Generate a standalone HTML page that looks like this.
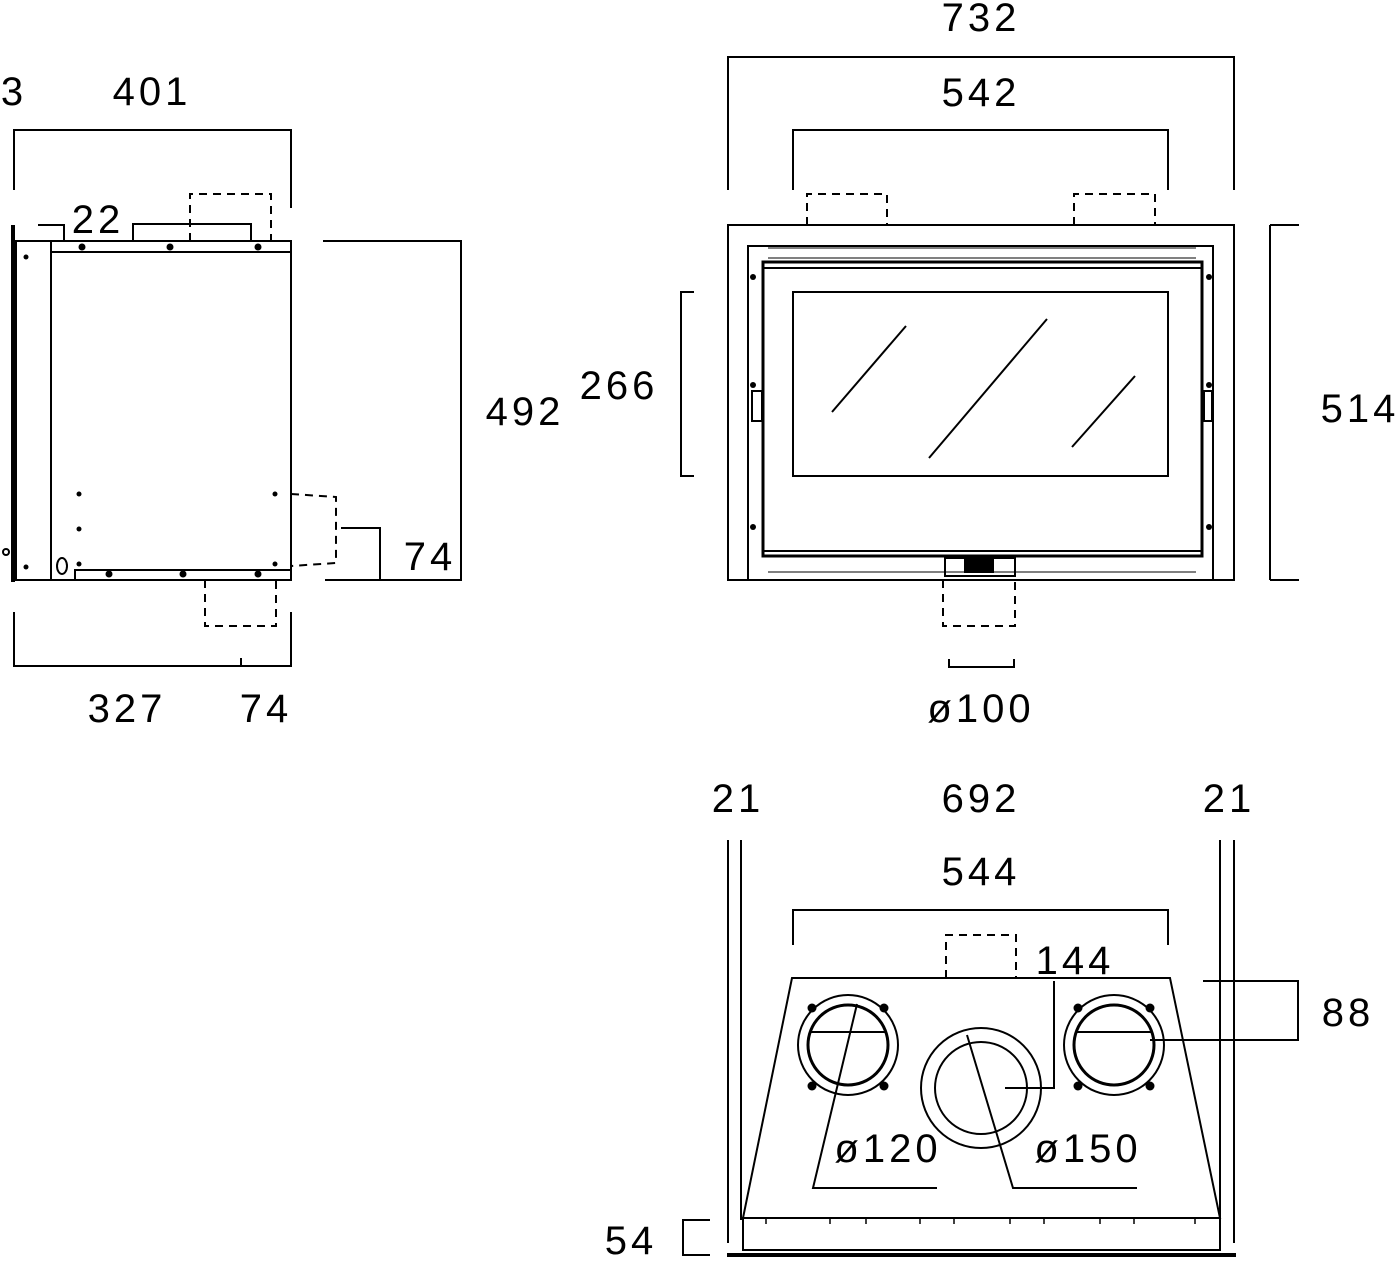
<!DOCTYPE html>
<html><head><style>body{margin:0;background:#fff}svg{display:block}text{font-family:"Liberation Sans",sans-serif;font-size:40px;fill:#000;stroke:none;text-anchor:middle;letter-spacing:4px}</style></head><body>
<svg width="1400" height="1271" viewBox="0 0 1400 1271" fill="none" stroke="#000" stroke-width="2">
<!-- LEFT VIEW -->
<g>
<polyline points="14,190 14,130 291,130 291,208"/>
<line x1="13" y1="225" x2="13" y2="582" stroke-width="4"/>
<rect x="16" y="241" width="35" height="339"/>
<rect x="51" y="241" width="240" height="339"/>
<line x1="51" y1="252" x2="291" y2="252"/>
<rect x="75" y="570" width="216" height="10"/>
<rect x="133" y="224" width="118" height="17"/>
<polyline points="38,225 64,225 64,241"/>
<polyline points="190,241 190,194 271,194 271,241" stroke-dasharray="8,6"/>
<polyline points="291,494 336,497 336,563 291,566" stroke-dasharray="8,6"/>
<polyline points="205,580 205,626 276,626 276,580" stroke-dasharray="8,6"/>
<polyline points="323,241 461,241 461,580 325,580"/>
<polyline points="341,528 380,528 380,580"/>
<polyline points="14,612 14,666 291,666 291,612"/>
<line x1="241" y1="658" x2="241" y2="666"/>
<g fill="#000" stroke="none">
<circle cx="82" cy="247" r="3.5"/><circle cx="170" cy="247" r="3.5"/><circle cx="258" cy="247" r="3.5"/>
<circle cx="109" cy="574" r="3.5"/><circle cx="183" cy="574" r="3.5"/><circle cx="258" cy="574" r="3.5"/>
<circle cx="26" cy="257" r="2.5"/><circle cx="26" cy="567" r="2.5"/>
<circle cx="79" cy="494" r="2.5"/><circle cx="79" cy="529" r="2.5"/><circle cx="79" cy="564" r="2.5"/>
<circle cx="275" cy="494" r="2.5"/><circle cx="275" cy="564" r="2.5"/>
</g>
<circle cx="6" cy="552" r="3"/>
<ellipse cx="62" cy="566" rx="5" ry="8"/>
</g>
<text x="14" y="105">3</text>
<text x="152" y="105">401</text>
<text x="98" y="233">22</text>
<text x="525" y="425">492</text>
<text x="430" y="570">74</text>
<text x="127" y="722">327</text>
<text x="266" y="722">74</text>
<!-- FRONT VIEW -->
<polyline points="728,190 728,57 1234,57 1234,190"/>
<polyline points="793,190 793,130 1168,130 1168,190"/>
<polyline points="807,225 807,194 887,194 887,225" stroke-dasharray="8,6"/>
<polyline points="1074,225 1074,194 1155,194 1155,225" stroke-dasharray="8,6"/>
<rect x="728" y="225" width="506" height="355"/>
<rect x="748" y="246" width="465" height="334"/>
<rect x="763" y="262" width="439" height="294" stroke-width="3"/>
<line x1="763" y1="268" x2="1202" y2="268"/>
<line x1="763" y1="551" x2="1202" y2="551"/>
<line x1="768" y1="248" x2="1196" y2="248" stroke-width="1"/>
<line x1="768" y1="258" x2="1196" y2="258" stroke-width="1"/>
<line x1="768" y1="572" x2="1196" y2="572" stroke-width="1"/>
<rect x="793" y="292" width="375" height="184"/>
<line x1="832" y1="412" x2="906" y2="326"/>
<line x1="929" y1="458" x2="1047" y2="319"/>
<line x1="1072" y1="447" x2="1135" y2="376"/>
<rect x="752" y="391" width="10" height="30"/>
<rect x="1204" y="391" width="8" height="30"/>
<rect x="945" y="558" width="70" height="18"/>
<rect x="965" y="560" width="28" height="12" fill="#000"/>
<g fill="#000" stroke="none">
<circle cx="753" cy="277" r="3"/><circle cx="753" cy="385" r="3"/><circle cx="753" cy="527" r="3"/>
<circle cx="1209" cy="277" r="3"/><circle cx="1209" cy="385" r="3"/><circle cx="1209" cy="527" r="3"/>
</g>
<polyline points="694,292 681,292 681,476 694,476"/>
<line x1="1270" y1="225" x2="1270" y2="580"/><line x1="1270" y1="225" x2="1299" y2="225"/><line x1="1270" y1="580" x2="1299" y2="580"/>
<polyline points="943,580 943,626 1015,626 1015,580" stroke-dasharray="8,6"/>
<polyline points="949,659 949,667 1014,667 1014,659"/>
<text x="619" y="399">266</text>
<text x="1360" y="422">514</text>
<text x="981" y="31">732</text>
<text x="981" y="106">542</text>
<text x="981" y="722">ø100</text>
<!-- BOTTOM VIEW -->
<text x="738" y="812">21</text>
<text x="981" y="812">692</text>
<text x="1229" y="812">21</text>
<text x="981" y="885">544</text>
<text x="1075" y="974">144</text>
<text x="1348" y="1026">88</text>
<text x="631" y="1254">54</text>
<text x="888" y="1162">ø120</text>
<text x="1088" y="1162">ø150</text>
<line x1="728" y1="840" x2="728" y2="1243"/><line x1="741" y1="840" x2="741" y2="1220"/>
<line x1="1234" y1="840" x2="1234" y2="1243"/><line x1="1220" y1="840" x2="1220" y2="1220"/>
<polyline points="793,945 793,910 1168,910 1168,945"/>
<polyline points="946,978 946,935 1016,935 1016,978" stroke-dasharray="8,6"/>
<polygon points="792,978 1170,978 1220,1218 743,1218"/>
<rect x="743" y="1218" width="477" height="32"/>
<line x1="727" y1="1255" x2="1236" y2="1255" stroke-width="4"/>
<g stroke-width="1.5">
<line x1="766" y1="1218" x2="766" y2="1224"/><line x1="830" y1="1218" x2="830" y2="1224"/><line x1="866" y1="1218" x2="866" y2="1224"/>
<line x1="920" y1="1218" x2="920" y2="1224"/><line x1="954" y1="1218" x2="954" y2="1224"/><line x1="1010" y1="1218" x2="1010" y2="1224"/>
<line x1="1044" y1="1218" x2="1044" y2="1224"/><line x1="1100" y1="1218" x2="1100" y2="1224"/><line x1="1134" y1="1218" x2="1134" y2="1224"/><line x1="1195" y1="1218" x2="1195" y2="1224"/>
</g>
<circle cx="848" cy="1045" r="50"/><circle cx="848" cy="1045" r="40" stroke-width="3"/>
<line x1="810" y1="1032" x2="886" y2="1032"/>
<circle cx="1114" cy="1045" r="50"/><circle cx="1114" cy="1045" r="40" stroke-width="3"/>
<line x1="1076" y1="1032" x2="1152" y2="1032"/>
<circle cx="981" cy="1088" r="60"/><circle cx="981" cy="1088" r="46"/>
<g fill="#000" stroke="none">
<circle cx="812" cy="1008" r="4.5"/><circle cx="884" cy="1008" r="4.5"/><circle cx="812" cy="1086" r="4.5"/><circle cx="884" cy="1086" r="4.5"/>
<circle cx="1078" cy="1008" r="4.5"/><circle cx="1150" cy="1008" r="4.5"/><circle cx="1078" cy="1086" r="4.5"/><circle cx="1150" cy="1086" r="4.5"/>
</g>
<polyline points="857,1004 813,1188 937,1188"/>
<polyline points="967,1035 1013,1188 1137,1188"/>
<polyline points="1005,1088 1054,1088 1054,981"/>
<polyline points="1203,981 1298,981 1298,1040 1150,1040"/>
<polyline points="710,1220 683,1220 683,1255 710,1255"/>
</svg>
</body></html>
